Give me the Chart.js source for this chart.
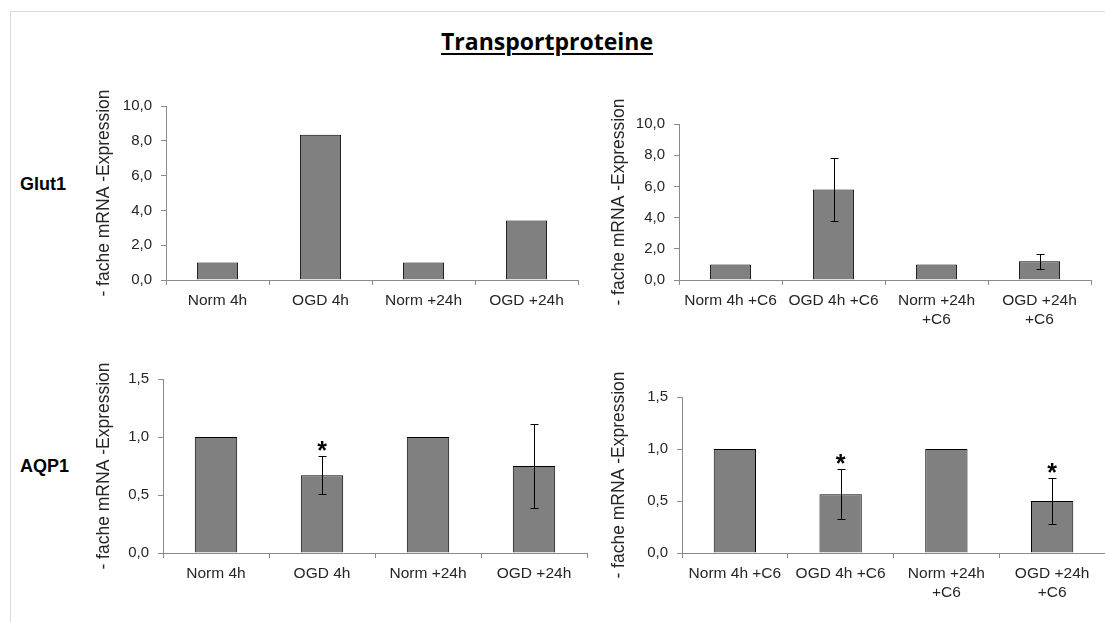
<!DOCTYPE html>
<html>
<head>
<meta charset="utf-8">
<script src="https://cdn.jsdelivr.net/npm/chart.js@4.4.1/dist/chart.umd.min.js"></script>
<style>
html, body { margin:0; padding:0; background:#fff; width:1105px; height:622px; overflow:hidden; }
#frame { position:absolute; left:10px; top:11px; width:1100px; height:620px; border-left:1px solid #d9d9d9; border-top:1px solid #d9d9d9; }
#title { position:absolute; left:347px; top:29px; width:400px; text-align:center; font-family:"Open Sans", sans-serif; font-weight:bold; font-size:23px; line-height:24px; text-decoration:underline; text-decoration-thickness:2px; text-underline-offset:3px; color:#000; }
.row { position:absolute; left:20px; font-family:"Liberation Sans", Arial, sans-serif; font-weight:bold; font-size:18px; line-height:20px; color:#000; }
canvas { position:absolute; }
</style>
</head>
<body>
<div id="frame"></div>
<div id="title">Transportproteine</div>
<div class="row" style="top:174px">Glut1</div>
<div class="row" style="top:456px">AQP1</div>
<canvas id="c1"></canvas>
<canvas id="c2"></canvas>
<canvas id="c3"></canvas>
<canvas id="c4"></canvas>
<script>
// categories
const cats = ['Norm 4h', 'OGD 4h', 'Norm +24h', 'OGD +24h'];
const catsC6 = ['Norm 4h +C6', 'OGD 4h +C6', ['Norm +24h', '+C6'], ['OGD +24h', '+C6']];

// Glut1
const glut1 = [1.0, 8.35, 1.0, 3.42];
const glut1Err = [null, null, null, null];
const glut1C6 = [1.0, 5.8, 1.0, 1.2];
const glut1C6Err = [null, 2.0, null, 0.48];

// AQP1
const aqp1 = [1.0, 0.67, 1.0, 0.75];
const aqp1Err = [null, 0.165, null, 0.36];
const aqp1Sig = [false, true, false, false];
const aqp1C6 = [1.0, 0.565, 1.0, 0.50];
const aqp1C6Err = [null, 0.24, null, 0.22];
const aqp1C6Sig = [false, true, false, true];

const yTitle = '- fache mRNA -Expression';
const fontFam = '"Liberation Sans", Arial, sans-serif';

// error bars + asterisks drawn from the dataset values through the y scale
const errPlugin = {
	id: 'errPlugin',
	afterDatasetsDraw(chart) {
		const ds = chart.data.datasets[0];
		const meta = chart.getDatasetMeta(0);
		const y = chart.scales.y;
		const ctx = chart.ctx;
		ctx.save();
		ctx.strokeStyle = '#000';
		ctx.fillStyle = '#000';
		ctx.lineWidth = 1;
		meta.data.forEach(function (bar, i) {
			const v = ds.data[i];
			const e = ds.errors ? ds.errors[i] : null;
			let top = y.getPixelForValue(v);
			if (e != null) {
				top = Math.round(y.getPixelForValue(v + e)) + 0.5;
				const bot = Math.round(y.getPixelForValue(v - e)) + 0.5;
				const x = Math.round(bar.x) + 0.5;
				ctx.beginPath();
				ctx.moveTo(x, top); ctx.lineTo(x, bot);
				ctx.moveTo(x - 4, top); ctx.lineTo(x + 4, top);
				ctx.moveTo(x - 4, bot); ctx.lineTo(x + 4, bot);
				ctx.stroke();
			}
			if (ds.sig && ds.sig[i]) {
				ctx.font = 'bold 25px ' + fontFam;
				ctx.textAlign = 'center';
				ctx.textBaseline = 'alphabetic';
				ctx.fillText('*', bar.x, top + 2);
			}
		});
		ctx.restore();
	}
};

function fmt(v) {
	return v.toFixed(1).replace('.', ',');
}

function makeChart(id, box, labels, values, errors, sig, yMax, yStep) {
	// box = plot area in page pixels, cl = left edge of canvas (where the axis title starts)
	const padTop = 40;
	const padRight = Math.min(6, 1105 - box.r);
	const xH = 55;
	const cv = document.getElementById(id);
	const w = box.r + padRight - box.cl;
	const h = box.b - box.t + padTop + xH;
	cv.width = w;
	cv.height = h;
	cv.style.left = box.cl + 'px';
	cv.style.top = (box.t - padTop) + 'px';
	cv.style.width = w + 'px';
	cv.style.height = h + 'px';

	return new Chart(cv, {
		type: 'bar',
		data: {
			labels: labels,
			datasets: [{
				data: values,
				errors: errors,
				sig: sig,
				backgroundColor: '#808080',
				borderColor: '#000',
				borderWidth: 1,
				categoryPercentage: 1.0,
				barPercentage: 0.4
			}]
		},
		options: {
			responsive: false,
			animation: false,
			layout: { padding: { top: padTop, right: padRight, left: 0, bottom: 0 } },
			plugins: { legend: { display: false }, tooltip: { enabled: false } },
			scales: {
				x: {
					grid: { drawOnChartArea: false, drawTicks: true, tickLength: 5, color: '#8a8a8a', offset: true },
					border: { color: '#8a8a8a' },
					ticks: { color: '#262626', padding: 6, maxRotation: 0, autoSkip: false,
						font: { family: fontFam, size: 15.5, lineHeight: 1.25 } },
					afterFit: function (s) { s.height = xH; }
				},
				y: {
					min: 0, max: yMax,
					grid: { drawOnChartArea: false, drawTicks: true, tickLength: 5, color: '#8a8a8a' },
					border: { color: '#8a8a8a' },
					ticks: { stepSize: yStep, color: '#262626', padding: 9,
						font: { family: fontFam, size: 15 },
						callback: function (v) { return fmt(v); } },
					title: { display: true, text: yTitle, color: '#262626', padding: { top: 4, bottom: 4 },
						font: { family: fontFam, size: 17.5 } },
					afterFit: function (s) { s.width = box.l - box.cl; }
				}
			}
		},
		plugins: [errPlugin]
	});
}

makeChart('c1', { cl: 90, l: 166, t: 106, r: 578, b: 280 }, cats, glut1, glut1Err, null, 10, 2);
makeChart('c2', { cl: 605, l: 679, t: 124, r: 1091, b: 280 }, catsC6, glut1C6, glut1C6Err, null, 10, 2);
makeChart('c3', { cl: 90, l: 163, t: 379, r: 587, b: 553 }, cats, aqp1, aqp1Err, aqp1Sig, 1.5, 0.5);
makeChart('c4', { cl: 605, l: 682, t: 397, r: 1105, b: 553 }, catsC6, aqp1C6, aqp1C6Err, aqp1C6Sig, 1.5, 0.5);
</script>
</body>
</html>
